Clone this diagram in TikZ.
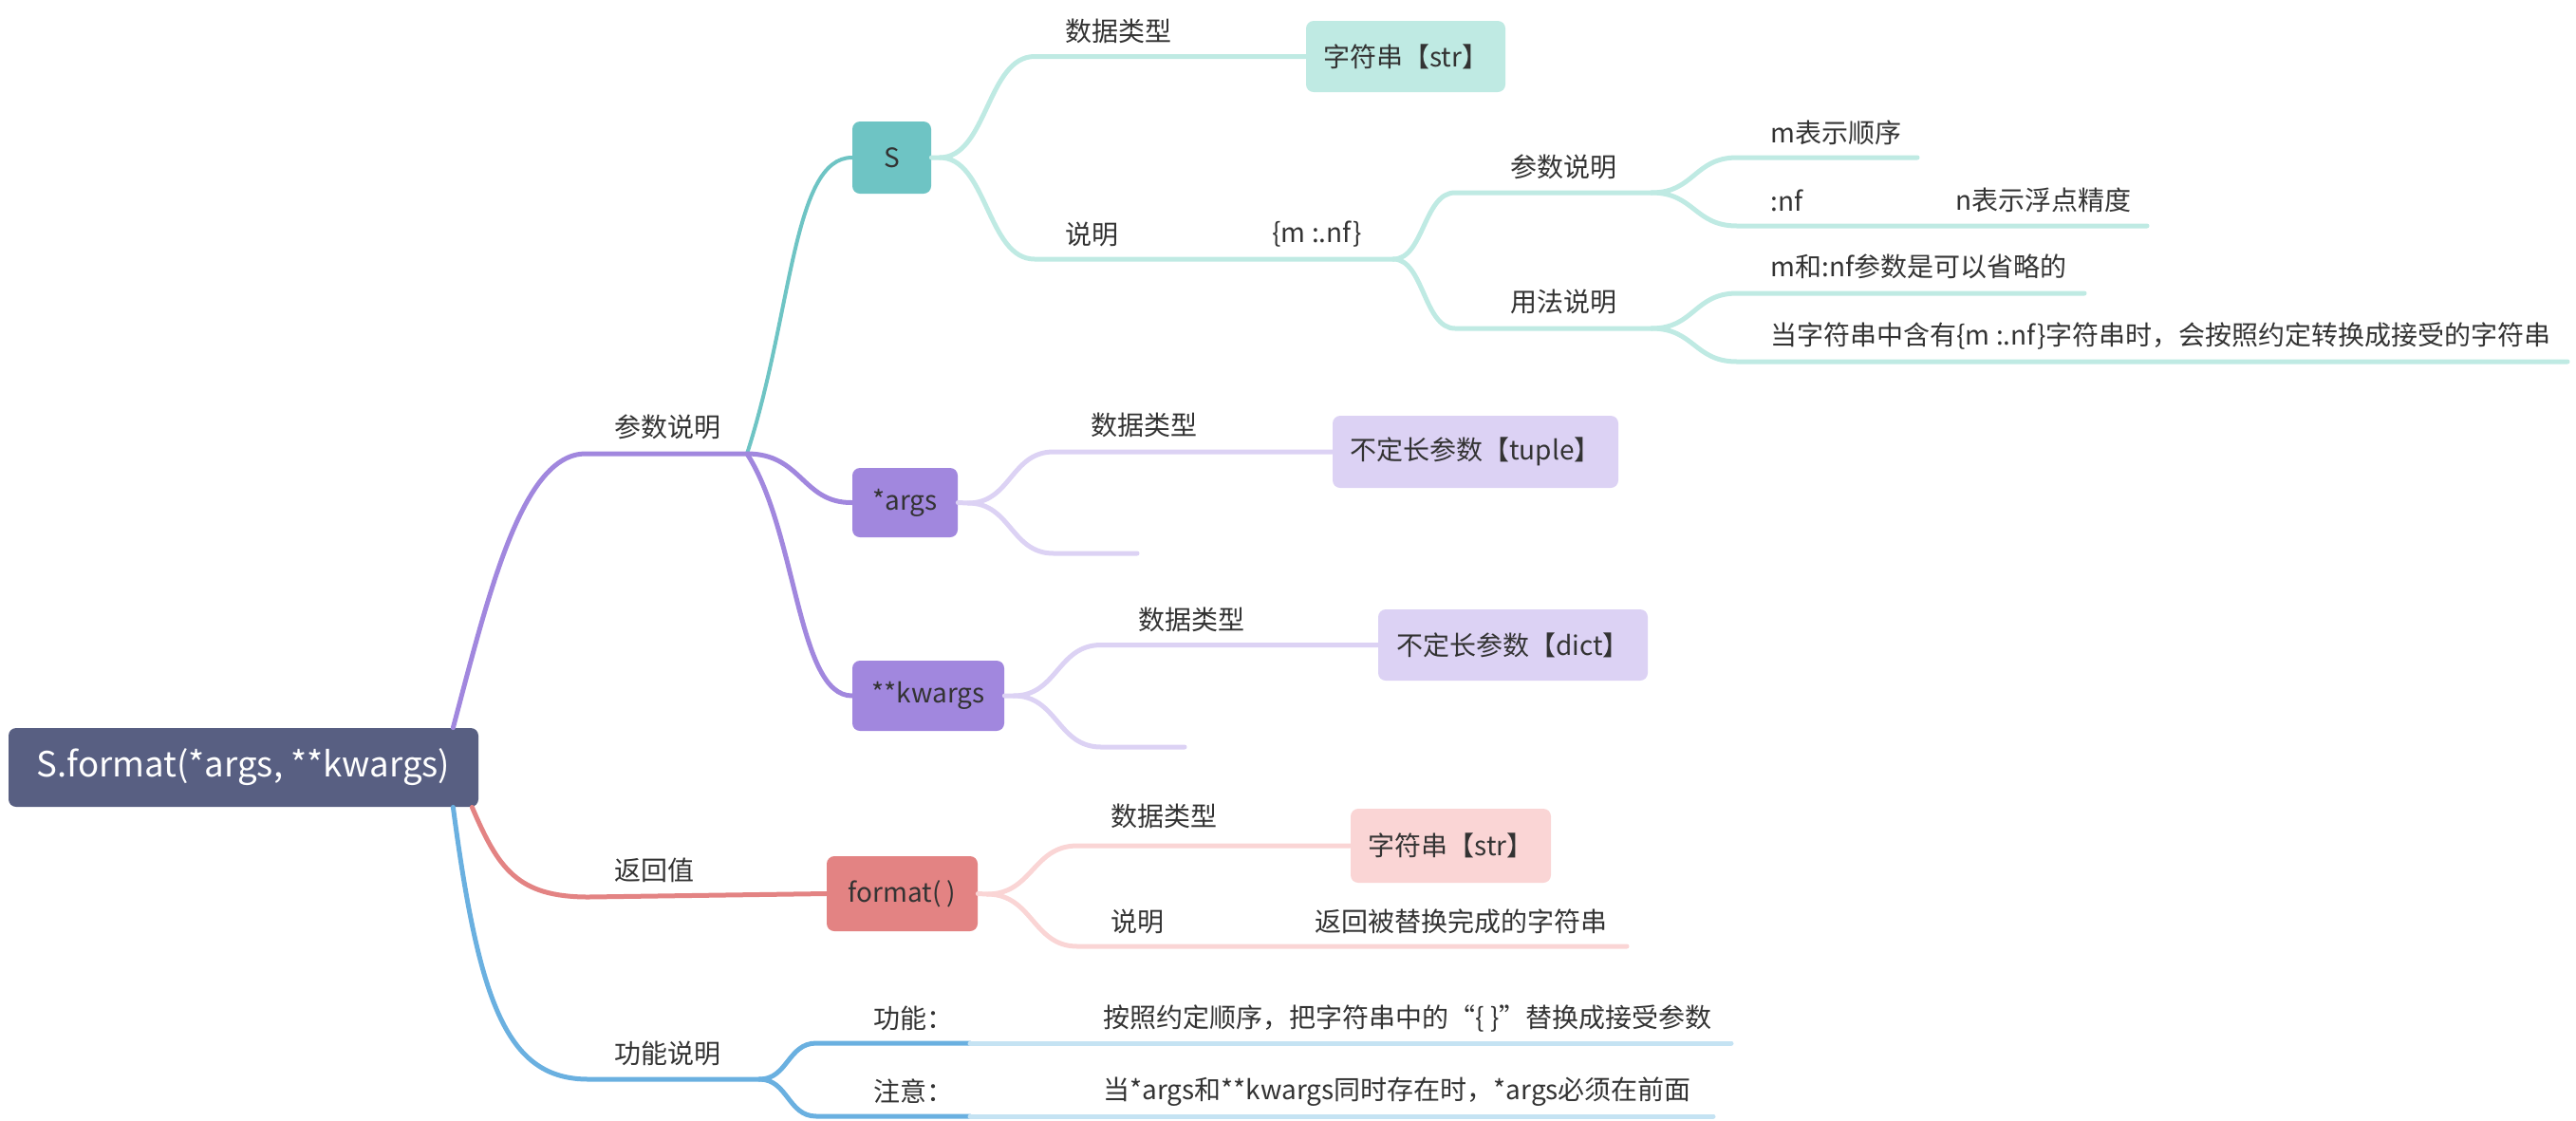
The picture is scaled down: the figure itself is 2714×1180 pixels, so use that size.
\documentclass[tikz,border=0pt]{standalone}
\usepackage{fontspec}
\setmainfont{Noto Sans CJK SC}
\definecolor{rootc}{HTML}{585F82}
\definecolor{purp}{HTML}{A187DE}
\definecolor{purpL}{HTML}{DCD2F4}
\definecolor{teal1}{HTML}{6EC4C4}
\definecolor{tealL}{HTML}{BFEAE3}
\definecolor{red1}{HTML}{E38383}
\definecolor{redL}{HTML}{FAD5D5}
\definecolor{blue1}{HTML}{6AB0E0}
\definecolor{blueL}{HTML}{C5E3F3}
\definecolor{txt}{HTML}{333333}
\tikzset{
  lbl/.style={anchor=west, inner sep=0pt, text=txt, font=\fontsize{14}{16}\selectfont},
  tbox/.style={rounded corners=4pt, inner sep=0pt, text=txt, font=\fontsize{14}{16}\selectfont},
  mainline/.style={line width=2.5pt, line cap=round},
  subline/.style={line width=2.5pt, line cap=round},
}
\begin{document}
\begin{tikzpicture}[x=0.5pt, y=-0.5pt]
\useasboundingbox (0,0) rectangle (2714,1180);
% ---------- boxed nodes ----------
\node[tbox, fill=rootc, text=white, font=\fontsize{18.3}{21}\selectfont, minimum width=247.5pt, minimum height=41.5pt] (root) at (256.5,808.5) {S.format(*args, **kwargs)};
\node[tbox, fill=teal1, minimum width=41.5pt, minimum height=38pt] (S) at (939.5,166) {S};
\node[tbox, fill=purp, minimum width=55.5pt, minimum height=36.5pt] (args) at (953.5,529.5) {*args};
\node[tbox, fill=purp, minimum width=80pt, minimum height=37pt] (kwargs) at (978,733) {**kwargs};
\node[tbox, fill=red1, minimum width=79.5pt, minimum height=39.5pt] (fmt) at (950.5,941.5) {format( )};
\node[tbox, fill=tealL, minimum width=105pt, minimum height=37.5pt] (str1) at (1481,59.5) {字符串【str】};
\node[tbox, fill=purpL, minimum width=150.5pt, minimum height=38pt] (tuple) at (1554.5,476) {不定长参数【tuple】};
\node[tbox, fill=purpL, minimum width=142pt, minimum height=37.5pt] (dict) at (1594,679.5) {不定长参数【dict】};
\node[tbox, fill=redL, minimum width=105.5pt, minimum height=39pt] (str2) at (1528.5,891) {字符串【str】};
% ---------- text labels ----------
\node[lbl] (l1) at (647,450) {参数说明};
\node[lbl] (l2) at (647,917) {返回值};
\node[lbl] (l3) at (647,1110) {功能说明};
\node[lbl] (sdt) at (1122,33) {数据类型};
\node[lbl] (ssm) at (1122,247) {说明};
\node[lbl] (smn) at (1340,247) {\{m :.nf\}};
\node[lbl] (pcs) at (1591,176) {参数说明};
\node[lbl] (yfs) at (1591,318) {用法说明};
\node[lbl] (mbs) at (1865,140) {m表示顺序};
\node[lbl] (cnf) at (1865,211) {:nf};
\node[lbl] (nbs) at (2060,211) {n表示浮点精度};
\node[lbl] (msl) at (1865,281) {m和:nf参数是可以省略的};
\node[lbl] (dzf) at (1865,354) {当字符串中含有\{m :.nf\}字符串时，会按照约定转换成接受的字符串};
\node[lbl] (adt) at (1149,448) {数据类型};
\node[lbl] (kdt) at (1199,653) {数据类型};
\node[lbl] (fdt) at (1170,860) {数据类型};
\node[lbl] (fsm) at (1170,971) {说明};
\node[lbl] (fhb) at (1385,971) {返回被替换完成的字符串};
\node[lbl] (gn) at (920,1073) {功能：};
\node[lbl] (zy) at (920,1150) {注意：};
\node[lbl] (gnt) at (1162,1073) {按照约定顺序，把字符串中的“\{ \}”替换成接受参数};
\node[lbl] (zyt) at (1162,1150) {当*args和**kwargs同时存在时，*args必须在前面};
% ---------- coordinates ----------
\coordinate (rP) at ([xshift=-13.5pt]root.north east);
\coordinate (rR) at ([xshift=-3.5pt]root.south east);
\coordinate (rB) at ([xshift=-13.5pt]root.south east);
\coordinate (k1) at (787,478);
\coordinate (k3) at (800,1137);
\coordinate (sF) at (990,166);
\coordinate (k2) at (1468,273);
\coordinate (k4) at (1740,203);
\coordinate (k5) at (1740,346);
\coordinate (e1) at (2020,166);
\coordinate (e2) at (2262,238);
\coordinate (e3) at (2196,309);
\coordinate (e4) at (2705,381);
\coordinate (aF) at (1020,530);
\coordinate (aE) at (1198,583);
\coordinate (kF) at (1068,733);
\coordinate (kE) at (1248,787);
\coordinate (fF) at (1040,942);
\coordinate (fE) at (1714,997);
\coordinate (g1) at (1022,1099);
\coordinate (g2) at (1824,1099);
\coordinate (z1) at (1022,1176);
\coordinate (z2) at (1805,1176);
% ---------- main branches ----------
\draw[mainline, purp] (rP) .. controls (515,625) and (550,478) .. (617,478) -- (k1);
\draw[line width=2pt, line cap=round, teal1] (k1) .. controls (835,330) and (835,166) .. (S.west);
\draw[mainline, purp] (k1) .. controls (845,478) and (845,530) .. (args.west);
\draw[mainline, purp] (k1) .. controls (840,560) and (840,733) .. (kwargs.west);
\draw[mainline, red1] (rR) .. controls (525,915) and (545,945) .. (620,945) -- (fmt.west);
\draw[mainline, blue1] (rB) .. controls (505,1060) and (535,1137) .. (620,1137) -- (k3);
% ---------- S subtree ----------
\draw[subline, tealL] (S.east) -- (sF) .. controls (1040,166) and (1040,59.5) .. (1090,59.5) -- (str1.west);
\draw[subline, tealL] (sF) .. controls (1040,166) and (1040,273) .. (1090,273) -- (k2);
\draw[subline, tealL] (k2) .. controls (1500,273) and (1500,203) .. (1533,203) -- (k4);
\draw[subline, tealL] (k2) .. controls (1500,273) and (1500,346) .. (1533,346) -- (k5);
\draw[subline, tealL] (k4) .. controls (1785,203) and (1785,166) .. (1830,166) -- (e1);
\draw[subline, tealL] (k4) .. controls (1785,203) and (1785,238) .. (1830,238) -- (e2);
\draw[subline, tealL] (k5) .. controls (1785,346) and (1785,309) .. (1830,309) -- (e3);
\draw[subline, tealL] (k5) .. controls (1785,346) and (1785,381) .. (1830,381) -- (e4);
% ---------- *args subtree ----------
\draw[subline, purpL] (args.east) -- (aF) .. controls (1065,530) and (1065,476) .. (1110,476) -- (tuple.west);
\draw[subline, purpL] (aF) .. controls (1065,530) and (1065,583) .. (1110,583) -- (aE);
% ---------- **kwargs subtree ----------
\draw[subline, purpL] (kwargs.east) -- (kF) .. controls (1114,733) and (1114,679.5) .. (1160,679.5) -- (dict.west);
\draw[subline, purpL] (kF) .. controls (1114,733) and (1114,787) .. (1160,787) -- (kE);
% ---------- format subtree ----------
\draw[subline, redL] (fmt.east) -- (fF) .. controls (1088,942) and (1088,891) .. (1135,891) -- (str2.west);
\draw[subline, redL] (fF) .. controls (1088,942) and (1088,997) .. (1135,997) -- (fE);
% ---------- 功能说明 subtree ----------
\draw[subline, blue1] (k3) .. controls (830,1137) and (830,1099) .. (860,1099) -- (g1);
\draw[subline, blueL] (g1) -- (g2);
\draw[subline, blue1] (k3) .. controls (830,1137) and (830,1176) .. (860,1176) -- (z1);
\draw[subline, blueL] (z1) -- (z2);
\end{tikzpicture}
\end{document}
